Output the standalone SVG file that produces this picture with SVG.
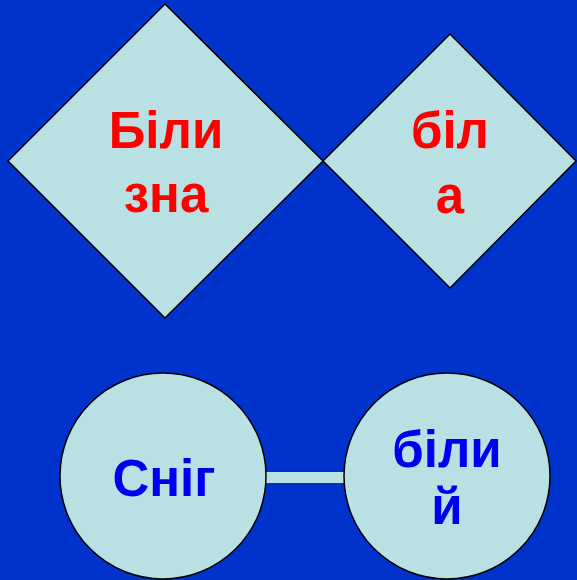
<svg xmlns="http://www.w3.org/2000/svg" width="577" height="580" viewBox="0 0 577 580">
<style>
.shape{fill:#b9e0e2;stroke:#000;stroke-width:1.5}
.t{font-family:"Liberation Sans",Arial,sans-serif;font-weight:bold;font-size:51px;text-anchor:middle}
.red{fill:#ff0000}
.blue{fill:#0000ee}
</style>
<rect width="577" height="580" fill="#0033cc"/>
<g id="connectors">
<rect x="265" y="472" width="80" height="11" fill="#b9e0e2"/>
</g>
<g id="diamond1">
<polygon class="shape" points="165,4 323,161 165,318 8,161"/>
<text class="t red" x="166" y="148">Біли</text>
<text class="t red" x="166" y="212">зна</text>
</g>
<g id="diamond2">
<polygon class="shape" points="450,34 576,161 450,288 323,161"/>
<text class="t red" x="450" y="148">біл</text>
<text class="t red" x="450" y="213">а</text>
</g>
<g id="circle1">
<circle class="shape" cx="163" cy="476" r="103"/>
<text class="t blue" x="164" y="496">Сніг</text>
</g>
<g id="circle2">
<circle class="shape" cx="447" cy="476" r="103"/>
<text class="t blue" x="447" y="467">біли</text>
<text class="t blue" x="447" y="524">й</text>
</g>
</svg>
